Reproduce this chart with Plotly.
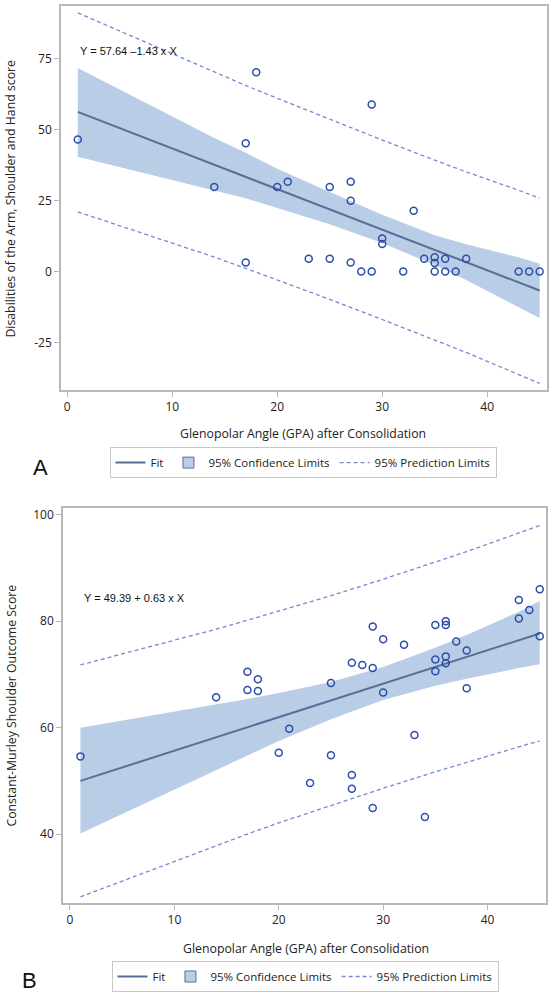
import plotly.graph_objects as go

# ---------------- Panel A data (DASH score) ----------------
a_x = [1, 14, 17, 17, 18, 20, 21, 23, 25, 25, 27, 27, 27, 28, 29, 29, 30, 30,
       32, 33, 34, 35, 35, 35, 36, 36, 37, 38, 43, 44, 45]
a_y = [46.5, 29.8, 45.2, 3.2, 70.2, 29.8, 31.6, 4.5, 29.8, 4.5, 31.6, 24.9, 3.2,
       0, 58.8, 0, 11.6, 9.7, 0, 21.4, 4.5, 5.0, 3.0, 0, 4.5, 0, 0, 4.5, 0, 0, 0]
a_fit_x = [1, 45]
a_fit_y = [56.2, -6.7]
a_band_x = [1, 14, 17, 20, 25, 30, 35, 38, 43, 45]
a_cl_up = [71.7, 47.0, 41.8, 36.2, 28.0, 20.0, 12.8, 9.6, 5.0, 2.7]
a_cl_lo = [40.4, 28.6, 25.8, 22.4, 16.6, 10.0, 2.3, -3.0, -12.4, -16.4]
a_pl_up = [91.1, 70.1, 65.5, 61.0, 53.6, 46.3, 39.2, 35.1, 28.6, 25.8]
a_pl_lo = [21.0, 5.1, 1.1, -2.9, -9.8, -16.9, -24.0, -28.5, -36.3, -39.4]
a_xticks = [0, 10, 20, 30, 40]
a_yticks = [-25, 0, 25, 50, 75]
a_yticklabels = ["-25", "0", "25", "50", "75"]

# ---------------- Panel B data (Constant-Murley score) ----------------
b_x = [1, 14, 17, 17, 18, 18, 20, 21, 23, 25, 25, 27, 27, 27, 28, 29, 29, 29, 30,
       30, 32, 33, 34, 35, 35, 35, 36, 36, 36, 36, 37, 38, 38, 43, 43, 44, 45, 45]
b_y = [54.6, 65.7, 70.5, 67.1, 69.1, 66.9, 55.3, 59.8, 49.6, 68.4, 54.8, 72.2,
       51.1, 48.5, 71.8, 79.0, 71.2, 44.9, 76.6, 66.6, 75.6, 58.6, 43.2, 79.3,
       72.8, 70.6, 80.0, 79.3, 73.4, 72.1, 76.2, 74.5, 67.4, 84.0, 80.5, 82.1,
       86.0, 77.2]
b_fit_x = [1, 45]
b_fit_y = [50.0, 77.7]
b_band_x = [1, 14, 17, 20, 25, 30, 35, 38, 43, 45]
b_cl_up = [60.0, 64.3, 65.4, 66.5, 68.6, 71.4, 75.0, 77.4, 81.8, 83.8]
b_cl_lo = [40.1, 52.1, 54.8, 57.5, 61.6, 65.2, 67.9, 69.2, 71.2, 71.9]
b_pl_up = [71.8, 78.5, 80.2, 81.9, 84.8, 87.9, 91.1, 93.1, 96.6, 98.0]
b_pl_lo = [28.2, 37.9, 40.0, 42.1, 45.4, 48.6, 51.7, 53.5, 56.4, 57.5]
b_xticks = [0, 10, 20, 30, 40]
b_yticks = [40, 60, 80, 100]

# ---------------- styling ----------------
W, H = 551, 992
MARK = "#2c4ea8"
FIT = "#5a6d97"
BAND = "#b9cde7"
PRED = "#7489d0"
FRAME = "#b8b8b8"
FONT = "Open Sans"

def px_x(p):
    return p / W

def px_y(p):
    return 1 - p / H

fig = go.Figure()

def add_panel(xs, ys, fx, fy, bx, cu, cl, pu, pl, xa, ya, leg):
    # confidence band
    fig.add_trace(go.Scatter(x=bx, y=cl, mode="lines", line=dict(width=0, color=BAND),
                             showlegend=False, hoverinfo="skip", xaxis=xa, yaxis=ya,
                             legend=leg))
    fig.add_trace(go.Scatter(x=bx, y=cu, mode="lines", line=dict(width=0, color=BAND),
                             fill="tonexty", fillcolor=BAND, showlegend=False,
                             hoverinfo="skip", xaxis=xa, yaxis=ya, legend=leg))
    # fit line
    fig.add_trace(go.Scatter(x=fx, y=fy, mode="lines", name="Fit",
                             line=dict(color=FIT, width=2), legend=leg, legendrank=1,
                             xaxis=xa, yaxis=ya))
    # legend-only entry for confidence band
    fig.add_trace(go.Scatter(x=[None], y=[None], mode="markers", name="95% Confidence Limits",
                             marker=dict(symbol="square", size=11, color=BAND,
                                         line=dict(color=FIT, width=1)),
                             legend=leg, legendrank=2, xaxis=xa, yaxis=ya))
    # prediction limits
    fig.add_trace(go.Scatter(x=bx, y=pu, mode="lines", name="95% Prediction Limits",
                             line=dict(color=PRED, width=1.3, dash="4px,3px"),
                             legend=leg, legendrank=3, xaxis=xa, yaxis=ya))
    fig.add_trace(go.Scatter(x=bx, y=pl, mode="lines", showlegend=False,
                             line=dict(color=PRED, width=1.3, dash="4px,3px"),
                             xaxis=xa, yaxis=ya, legend=leg))
    # observations
    fig.add_trace(go.Scatter(x=xs, y=ys, mode="markers", showlegend=False,
                             marker=dict(symbol="circle-open", size=7, color=MARK,
                                         line=dict(width=1.5, color=MARK)),
                             xaxis=xa, yaxis=ya, legend=leg))

add_panel(a_x, a_y, a_fit_x, a_fit_y, a_band_x, a_cl_up, a_cl_lo, a_pl_up, a_pl_lo,
          "x", "y", "legend")
add_panel(b_x, b_y, b_fit_x, b_fit_y, b_band_x, b_cl_up, b_cl_lo, b_pl_up, b_pl_lo,
          "x2", "y2", "legend2")

axis_common = dict(showgrid=False, zeroline=False, showline=True, mirror=True,
                   linecolor=FRAME, linewidth=1.5, ticks="outside", ticklen=5,
                   tickcolor=FRAME, tickwidth=1,
                   tickfont=dict(family=FONT, size=12, color="#222"))

legend_common = dict(orientation="h", xanchor="center", yanchor="top",
                     bordercolor="#c8c8c8", borderwidth=1, bgcolor="white",
                     font=dict(family=FONT, size=11.5, color="#222"), itemwidth=30,
                     tracegroupgap=0, traceorder="normal")

fig.update_layout(
    width=W, height=H, margin=dict(l=0, r=0, t=0, b=0),
    paper_bgcolor="white", plot_bgcolor="white",
    xaxis=dict(domain=[px_x(61), px_x(547)], range=[-0.6, 45.7], tickvals=a_xticks,
               anchor="y", **axis_common),
    yaxis=dict(domain=[px_y(389), px_y(4)], range=[-41.8, 93.5], tickvals=a_yticks,
               ticktext=a_yticklabels, anchor="x", **axis_common),
    xaxis2=dict(domain=[px_x(63), px_x(546)], range=[-0.67, 45.6], tickvals=b_xticks,
                anchor="y2", **axis_common),
    yaxis2=dict(domain=[px_y(903), px_y(507)], range=[27.0, 101.3], tickvals=b_yticks,
                anchor="x2", **axis_common),
    legend=dict(x=px_x(303), y=px_y(446), **legend_common),
    legend2=dict(x=px_x(305), y=px_y(961), **legend_common),
    showlegend=True,
)

ann_font = dict(family=FONT, size=12.3, color="#222")
annotations = [
    dict(text="Glenopolar Angle (GPA) after Consolidation", x=px_x(303), y=px_y(432),
         xref="paper", yref="paper", showarrow=False, font=ann_font,
         xanchor="center", yanchor="middle"),
    dict(text="Disabilities of the Arm, Shoulder and Hand score", x=px_x(11), y=px_y(197),
         xref="paper", yref="paper", showarrow=False, font=ann_font, textangle=-90,
         xanchor="center", yanchor="middle"),
    dict(text="Glenopolar Angle (GPA) after Consolidation", x=px_x(306), y=px_y(948),
         xref="paper", yref="paper", showarrow=False, font=ann_font,
         xanchor="center", yanchor="middle"),
    dict(text="Constant-Murley Shoulder Outcome Score", x=px_x(12), y=px_y(705),
         xref="paper", yref="paper", showarrow=False, font=ann_font, textangle=-90,
         xanchor="center", yanchor="middle"),
    dict(text="Y = 57.64 \u20131.43 x X", x=px_x(78), y=px_y(49),
         xref="paper", yref="paper", showarrow=False,
         font=dict(family="Liberation Sans", size=11, color="#111"),
         xanchor="left", yanchor="middle"),
    dict(text="Y = 49.39 + 0.63 x X", x=px_x(82), y=px_y(597),
         xref="paper", yref="paper", showarrow=False,
         font=dict(family="Liberation Sans", size=11, color="#111"),
         xanchor="left", yanchor="middle"),
    dict(text="A", x=px_x(31), y=px_y(466), xref="paper", yref="paper", showarrow=False,
         font=dict(family="Liberation Sans", size=22, color="#111"),
         xanchor="left", yanchor="middle"),
    dict(text="B", x=px_x(20), y=px_y(980), xref="paper", yref="paper", showarrow=False,
         font=dict(family="Liberation Sans", size=22, color="#111"),
         xanchor="left", yanchor="middle"),
]
fig.update_layout(annotations=annotations)

fig.write_html(
    "out.html",
    config={"displayModeBar": False},
    post_script="document.body.style.margin='0';document.body.style.overflow='hidden';",
)
